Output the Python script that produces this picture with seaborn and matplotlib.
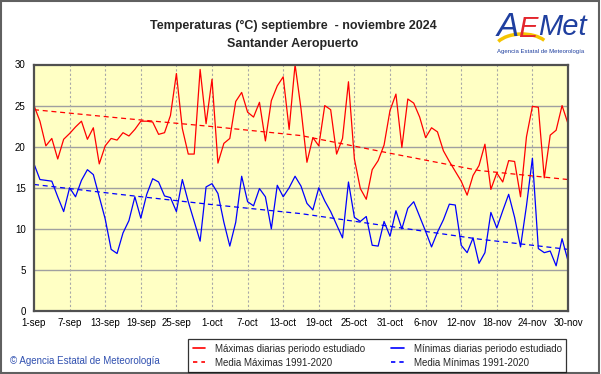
import numpy as np
import pandas as pd
import matplotlib
matplotlib.use("Agg")
import matplotlib.pyplot as plt
import seaborn as sns
from matplotlib.patches import Rectangle, Arc
from matplotlib.lines import Line2D

# ---------------- data ----------------
days = list(range(91))
tmax = [25.0, 23.1, 20.1, 21.0, 18.5, 20.9, 21.6, 22.4, 23.1, 20.9,
        22.3, 17.9, 20.1, 21.0, 20.8, 21.7, 21.3, 22.1, 23.1, 23.1,
        23.0, 21.5, 21.7, 23.8, 28.9, 22.2, 19.1, 19.1, 29.4, 22.8,
        28.2, 18.0, 20.4, 21.0, 25.5, 26.6, 24.2, 23.6, 25.4, 20.7,
        25.6, 27.4, 28.5, 22.1, 30.0, 24.6, 18.1, 21.1, 20.1, 25.0,
        24.5, 19.1, 21.0, 27.9, 18.5, 14.9, 13.6, 17.2, 18.3, 20.2,
        24.4, 26.4, 19.9, 25.8, 25.3, 23.6, 21.1, 22.3, 21.8, 19.5,
        18.2, 17.0, 15.8, 14.1, 16.5, 17.7, 20.3, 14.8, 16.8, 15.7,
        18.3, 18.2, 13.9, 21.2, 24.9, 24.8, 16.2, 21.4, 22.0, 25.0,
        22.8]
tmin = [17.9, 16.0, 15.9, 15.8, 13.9, 12.1, 15.0, 13.9, 15.9, 17.2,
        16.6, 13.9, 11.2, 7.5, 7.0, 9.5, 11.0, 13.9, 11.3, 14.2,
        16.1, 15.7, 14.0, 13.8, 12.1, 16.0, 13.3, 10.9, 8.5, 15.1,
        15.5, 14.3, 10.8, 7.9, 10.8, 16.4, 13.3, 12.8, 14.9, 13.9,
        10.0, 15.3, 13.9, 15.0, 16.4, 15.2, 13.1, 12.3, 15.0, 13.4,
        12.1, 10.5, 8.9, 15.7, 11.4, 10.9, 11.5, 8.0, 7.9, 10.9,
        9.1, 12.2, 10.0, 12.5, 13.3, 11.5, 9.7, 7.8, 9.6, 11.1,
        13.0, 12.9, 8.0, 7.1, 8.9, 5.8, 7.1, 12.0, 10.1, 12.2,
        14.2, 11.4, 7.8, 12.8, 18.6, 7.6, 7.1, 7.3, 5.5, 8.8,
        6.1]
norm_days = [0, 15, 30, 45, 60, 75, 90]
norm_max = [24.5, 23.45, 22.45, 21.35, 19.2, 17.1, 16.0]
norm_min = [15.4, 14.15, 12.95, 11.85, 10.3, 8.75, 7.5]
tick_pos = list(range(0, 91, 6))
tick_labels = ["1-sep", "7-sep", "13-sep", "19-sep", "25-sep", "1-oct",
               "7-oct", "13-oct", "19-oct", "25-oct", "31-oct", "6-nov",
               "12-nov", "18-nov", "24-nov", "30-nov"]
y_ticks = [0, 5, 10, 15, 20, 25, 30]

title1 = "Temperaturas (°C) septiembre  - noviembre 2024"
title2 = "Santander Aeropuerto"
leg_labels = ["Máximas diarias periodo estudiado", "Media Máximas 1991-2020",
              "Mínimas diarias periodo estudiado", "Media Mínimas 1991-2020"]

# ---------------- style ----------------
sns.set_style("white")
plt.rcParams['font.family'] = ['Liberation Sans', 'DejaVu Sans']

W, H = 601, 374
fig = plt.figure(figsize=(W / 100, H / 100), dpi=100)
fig.patch.set_facecolor("white")

L, R, T, B = 34, 568, 64.5, 311
ax = fig.add_axes([L / W, 1 - B / H, (R - L) / W, (B - T) / H])
ax.set_facecolor("#FFFFC4")

df = pd.DataFrame({"day": days, "tmax": tmax, "tmin": tmin})
dn = pd.DataFrame({"day": norm_days, "nmax": norm_max, "nmin": norm_min})

RED = "#FF0000"
BLUE = "#0000FF"
sns.lineplot(data=df, x="day", y="tmax", ax=ax, color=RED, lw=0.9)
sns.lineplot(data=df, x="day", y="tmin", ax=ax, color=BLUE, lw=0.9)
sns.lineplot(data=dn, x="day", y="nmax", ax=ax, color=RED, lw=0.9,
             linestyle=(0, (4, 3)))
sns.lineplot(data=dn, x="day", y="nmin", ax=ax, color=BLUE, lw=0.9,
             linestyle=(0, (4, 3)))

ax.set_xlim(0, 90)
ax.set_ylim(0, 30)
ax.set_xticks(tick_pos)
ax.set_xticklabels(tick_labels)
ax.set_yticks(y_ticks)
ax.set_xlabel("")
ax.set_ylabel("")
ax.tick_params(axis="both", length=0, labelsize=7, colors="black", pad=6)
ax.tick_params(axis="x", pad=5)

for y in y_ticks[1:-1]:
    ax.axhline(y, color="#A0A0A0", lw=1.0, zorder=0.5)
for x in tick_pos[1:-1]:
    ax.axvline(x, color="#A8A8A8", lw=0.8, linestyle=(0, (2, 2)), zorder=0.5)

for s in ax.spines.values():
    s.set_color("#505050")
    s.set_linewidth(1.6)

# titles
fig.text(293 / W, 1 - 26 / H, title1, ha="center", va="center",
         fontsize=9, fontweight="bold")
fig.text(293 / W, 1 - 44 / H, title2, ha="center", va="center",
         fontsize=9, fontweight="bold")

# logo (approximation)
fig.text(508 / W, 1 - 27 / H, "A", color="#1F3F9F", fontsize=24,
         style="italic", ha="center", va="center")
fig.text(528 / W, 1 - 29 / H, "E", color="#E3262D", fontsize=21,
         style="italic", ha="center", va="center")
fig.text(562 / W, 1 - 27 / H, "Met", color="#1F3F9F", fontsize=21,
         style="italic", ha="center", va="center")
fig.text(541 / W, 1 - 51 / H, "Agencia Estatal de Meteorología",
         color="#1F3F9F", fontsize=4.3, ha="center", va="center")
arc = Arc((522 / W, 1 - 50 / H), 56 / W, 32 / H, theta1=35, theta2=150,
          color="#F5C400", lw=2.5, transform=fig.transFigure)
fig.add_artist(arc)

# copyright
fig.text(10 / W, 1 - 361 / H, "© Agencia Estatal de Meteorología",
         color="#3050B0", fontsize=7, ha="left", va="center")

# legend
handles = [Line2D([], [], color=RED, lw=1.2),
           Line2D([], [], color=RED, lw=1.2, linestyle=(0, (2.6, 2.4))),
           Line2D([], [], color=BLUE, lw=1.2),
           Line2D([], [], color=BLUE, lw=1.2, linestyle=(0, (2.6, 2.4)))]
leg = fig.legend(handles, leg_labels, ncol=2, loc="upper left",
                 bbox_to_anchor=(188 / W, 1 - 339 / H),
                 frameon=True, fancybox=False, fontsize=7,
                 handlelength=1.3, handletextpad=1.0, columnspacing=2.7,
                 labelspacing=0.42, borderpad=0.48, borderaxespad=0)
leg.get_frame().set_edgecolor("black")
leg.get_frame().set_linewidth(0.9)

# outer frame
fig.add_artist(Rectangle((0.002, 0.003), 0.995, 0.994, fill=False,
                         edgecolor="#606060", lw=1.5,
                         transform=fig.transFigure))

fig.savefig("out.png", dpi=100)
